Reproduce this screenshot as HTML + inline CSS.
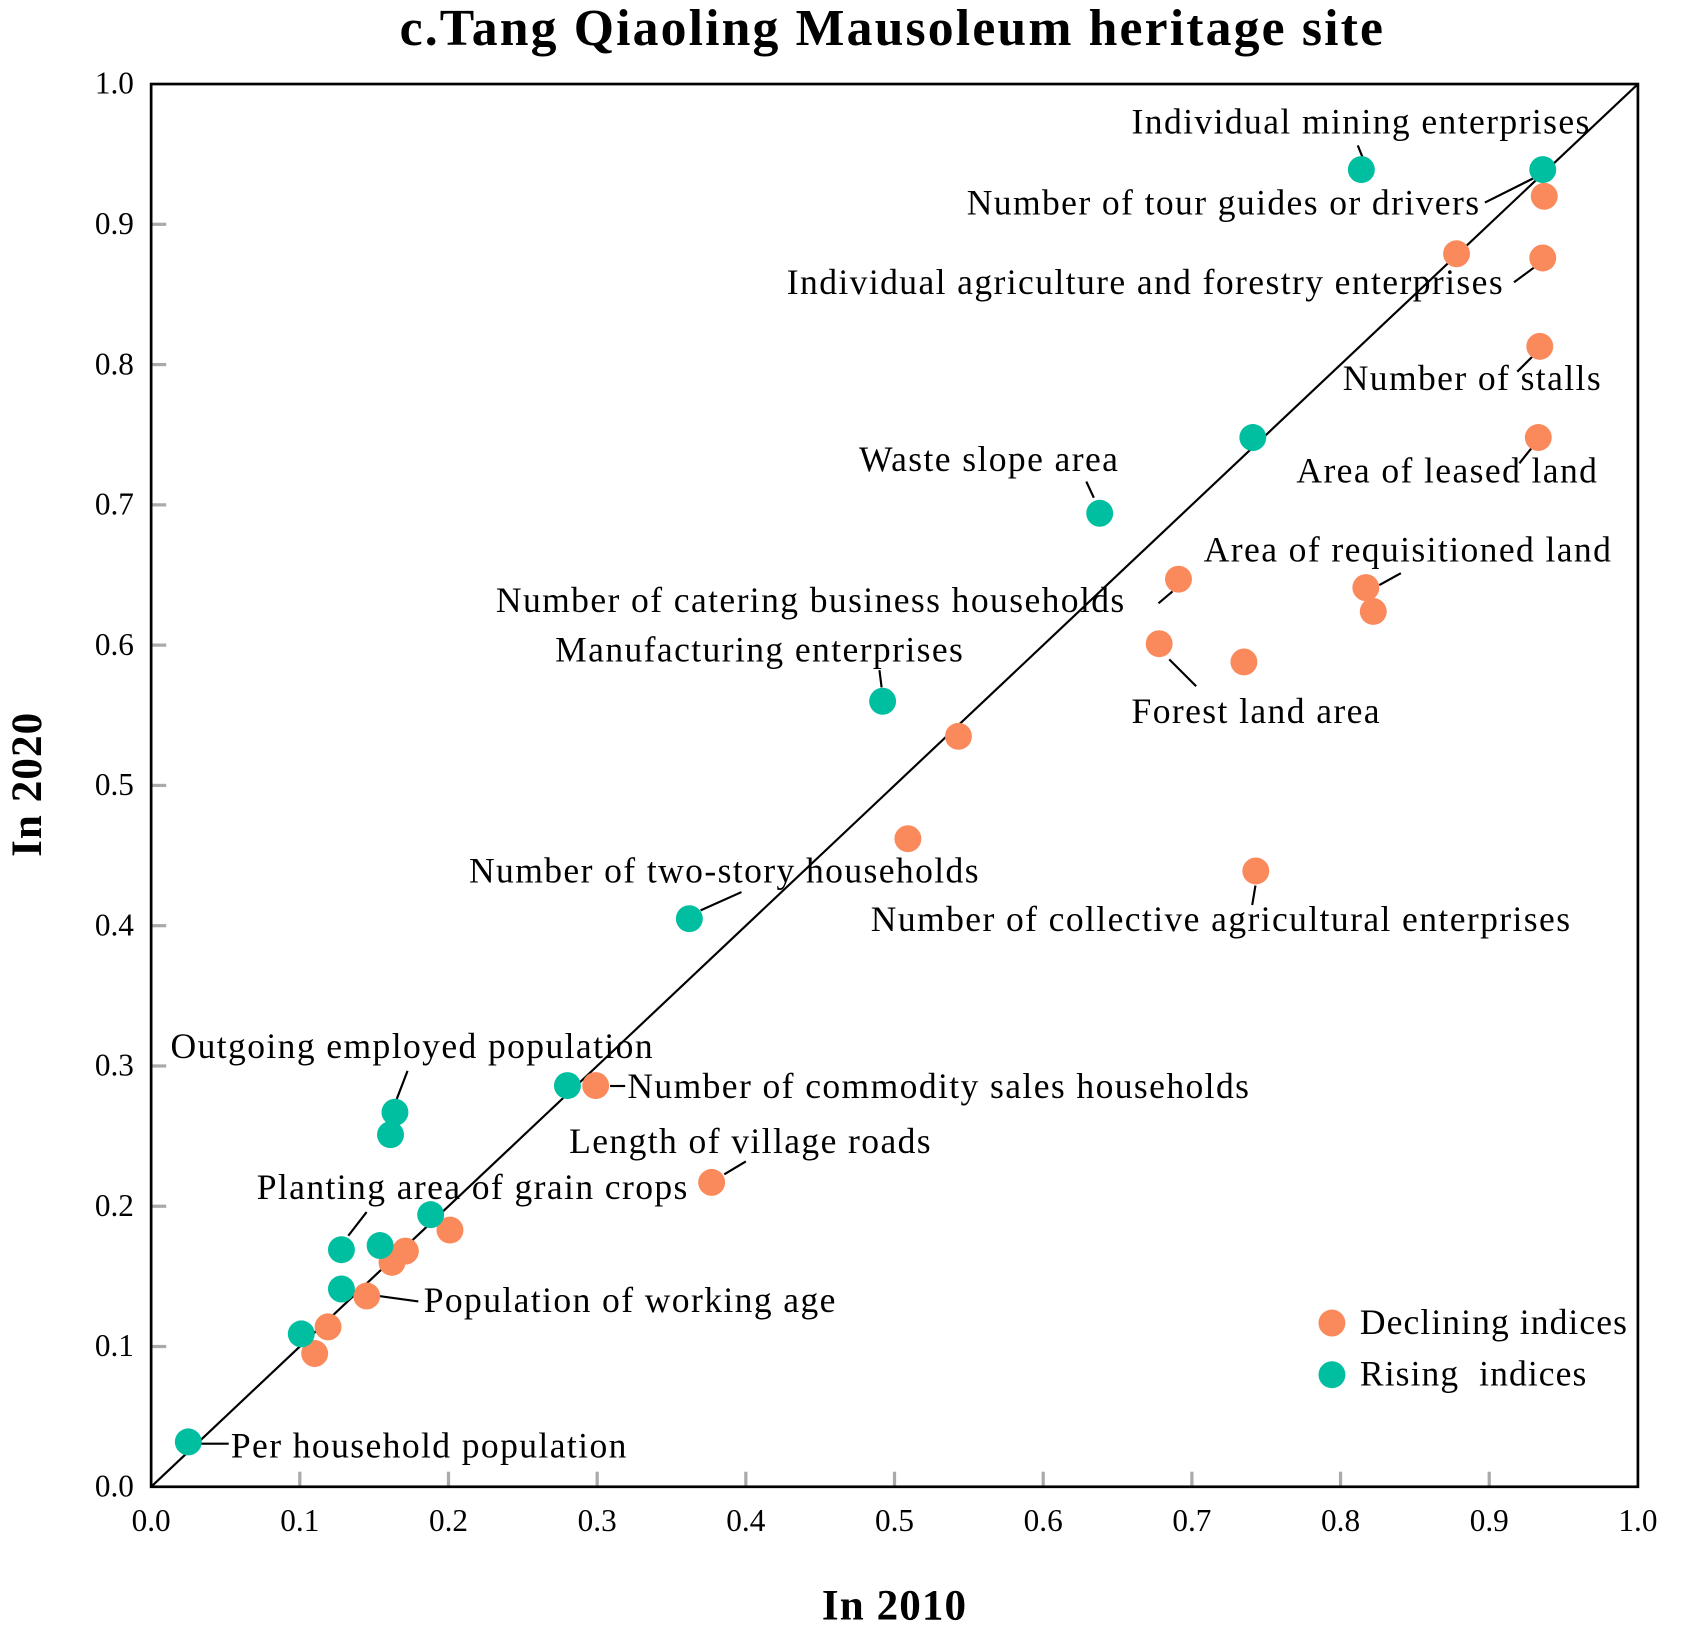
<!DOCTYPE html>
<html><head><meta charset="utf-8"><style>
html,body{margin:0;padding:0;background:#fff;}
svg{display:block;font-family:"Liberation Serif",serif;}
</style></head><body>
<svg id="chart" width="1691" height="1629" viewBox="0 0 1569 1512" xmlns="http://www.w3.org/2000/svg"></svg>
<script>
const risingX=[0.814,0.936,0.741,0.638,0.492,0.362,0.280,0.164,0.161,0.188,0.128,0.154,0.128,0.101,0.025];
const risingY=[0.939,0.939,0.748,0.694,0.560,0.405,0.286,0.267,0.251,0.194,0.169,0.172,0.141,0.109,0.032];
const declX=[0.937,0.878,0.936,0.934,0.933,0.691,0.817,0.822,0.678,0.735,0.543,0.509,0.743,0.299,0.377,0.201,0.171,0.162,0.145,0.119,0.110];
const declY=[0.920,0.879,0.876,0.813,0.748,0.647,0.641,0.624,0.601,0.588,0.535,0.462,0.439,0.286,0.217,0.183,0.168,0.160,0.136,0.114,0.095];
const ticks=[0,0.1,0.2,0.3,0.4,0.5,0.6,0.7,0.8,0.9,1.0];
const tickLabels=["0.0","0.1","0.2","0.3","0.4","0.5","0.6","0.7","0.8","0.9","1.0"];
const labels=[
["Individual mining enterprises",1050,124,1260,135,1266,150],
["Number of tour guides or drivers",897,199,1378,188,1424,165],
["Individual agriculture and forestry enterprises",730,273,1405,262,1424,248],
["Number of stalls",1246,362,1408,345,1422,331],
["Area of leased land",1203,448,1410,430,1422,415],
["Waste slope area",797,437,1008,447,1015,462],
["Area of requisitioned land",1117,521,1300,532,1280,543],
["Number of catering business households",460,568,1075,560,1088,549],
["Manufacturing enterprises",515,614,816,622,818,638],
["Forest land area",1050,671,1085,612,1110,637],
["Number of two-story households",435,819,650,845,688,828],
["Number of collective agricultural enterprises",808,864,1165,822,1162,840],
["Outgoing employed population",158,982,378,994,368,1020],
["Number of commodity sales households",582,1019,566,1008,580,1008],
["Length of village roads",528,1070,672,1090,692,1078],
["Planting area of grain crops",238,1113,323,1147,340,1125],
["Population of working age",393,1218,352,1203,388,1208],
["Per household population",214,1353,186,1340,212,1340]
];
const X0=140,X1=1520,Y0=1380,Y1=78;
const sx=v=>X0+v*(X1-X0), sy=v=>Y0-v*(Y0-Y1);
const svg=document.getElementById('chart');
const NS="http://www.w3.org/2000/svg";
function mk(tag,attrs,parent){const e=document.createElementNS(NS,tag);for(const k in attrs)e.setAttribute(k,attrs[k]);(parent||svg).appendChild(e);return e;}
let t=mk('text',{x:828,y:42,'text-anchor':'middle','font-size':48,'font-weight':'bold','letter-spacing':2});t.textContent="c.Tang Qiaoling Mausoleum heritage site";


ticks.forEach((v,i)=>{
 if(i>0&&i<10){
  let a=mk('line',{x1:sx(v),x2:sx(v),y1:Y0,y2:Y0-14,stroke:'#aaa','stroke-width':3});
  
  
  let b=mk('line',{x1:X0,x2:X0+14,y1:sy(v),y2:sy(v),stroke:'#aaa','stroke-width':3});
  
  
 }
 let tx=mk('text',{x:sx(v),y:1421,'text-anchor':'middle','font-size':29});tx.textContent=tickLabels[i];
 
 
 let ty=mk('text',{x:124,y:sy(v)+9,'text-anchor':'end','font-size':29});ty.textContent=tickLabels[i];
 
 
});
let box=mk('rect',{x:X0,y:Y1,width:X1-X0,height:Y0-Y1,fill:'none',stroke:'#000','stroke-width':2.5});


let diag=mk('line',{x1:sx(0),y1:sy(0),x2:sx(1),y2:sy(1),stroke:'#000','stroke-width':2});


labels.forEach(l=>{
 let ln=mk('line',{x1:l[3],y1:l[4],x2:l[5],y2:l[6],stroke:'#000','stroke-width':2});
 
 
});
declX.forEach((x,i)=>{let c=mk('circle',{cx:sx(x),cy:sy(declY[i]),r:12.5,fill:'#FA8A5C'});
 
 });
risingX.forEach((x,i)=>{let c=mk('circle',{cx:sx(x),cy:sy(risingY[i]),r:12.5,fill:'#00BFA0'});
 
 });
labels.forEach(l=>{
 let tt=mk('text',{x:l[1],y:l[2],'font-size':33,'letter-spacing':1.3});tt.textContent=l[0];
 
 
});
let c1=mk('circle',{cx:1236,cy:1228,r:12.5,fill:'#FA8A5C'});


let l1=mk('text',{x:1262,y:1238,'font-size':33,'letter-spacing':1});l1.textContent="Declining indices";


let c2=mk('circle',{cx:1236,cy:1276,r:12.5,fill:'#00BFA0'});


let l2=mk('text',{x:1262,y:1286,'font-size':33,'letter-spacing':1});l2.textContent="Rising  indices";l2.style.whiteSpace='pre';


let xt=mk('text',{x:830,y:1503,'text-anchor':'middle','font-size':40,'font-weight':'bold','letter-spacing':1});xt.textContent="In 2010";


let yt=mk('text',{x:0,y:0,'text-anchor':'middle','font-size':40,'font-weight':'bold','letter-spacing':1,transform:'translate(38,728) rotate(-90)'});yt.textContent="In 2020";


</script>
</body></html>
